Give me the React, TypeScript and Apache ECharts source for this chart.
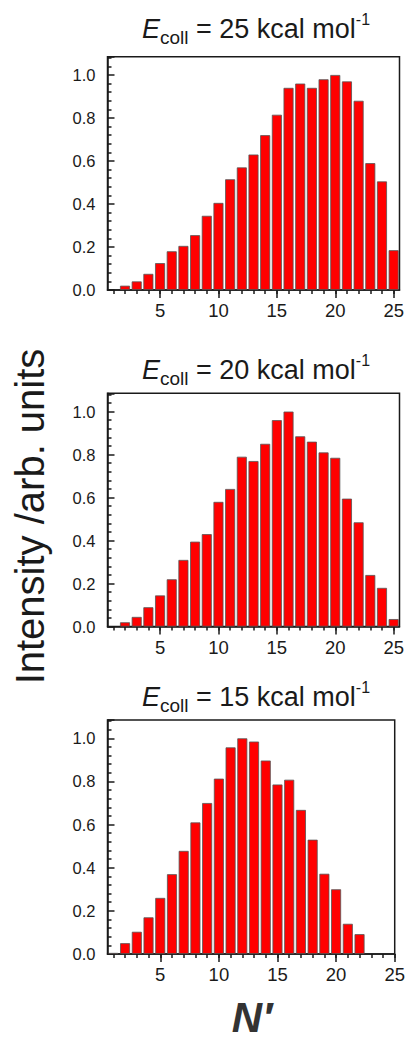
import React, { useEffect, useRef } from "react";
import * as echarts from "echarts";

// Rotational state distributions N′ at three collision energies
const energies = [25, 20, 15];

const nAxis25 = [2, 3, 4, 5, 6, 7, 8, 9, 10, 11, 12, 13, 14, 15, 16, 17, 18, 19, 20, 21, 22, 23, 24, 25];
const intensity25 = [0.02, 0.04, 0.075, 0.125, 0.18, 0.205, 0.255, 0.345, 0.405, 0.515, 0.57, 0.63, 0.72, 0.815, 0.94, 0.96, 0.94, 0.98, 1.0, 0.97, 0.88, 0.59, 0.505, 0.185];

const nAxis20 = [2, 3, 4, 5, 6, 7, 8, 9, 10, 11, 12, 13, 14, 15, 16, 17, 18, 19, 20, 21, 22, 23, 24, 25];
const intensity20 = [0.02, 0.045, 0.09, 0.145, 0.22, 0.31, 0.395, 0.43, 0.58, 0.64, 0.79, 0.77, 0.85, 0.96, 1.0, 0.885, 0.86, 0.81, 0.785, 0.595, 0.485, 0.24, 0.18, 0.035];

const nAxis15 = [1, 2, 3, 4, 5, 6, 7, 8, 9, 10, 11, 12, 13, 14, 15, 16, 17, 18, 19, 20, 21, 22];
const intensity15 = [0.005, 0.05, 0.103, 0.17, 0.26, 0.37, 0.478, 0.61, 0.7, 0.813, 0.958, 1.0, 0.985, 0.897, 0.786, 0.808, 0.668, 0.53, 0.372, 0.3, 0.14, 0.092];

const xMajorTicks = [5, 10, 15, 20, 25];
const xMinorTicks = [1, 2, 3, 4, 5, 6, 7, 8, 9, 10, 11, 12, 13, 14, 15, 16, 17, 18, 19, 20, 21, 22, 23, 24, 25];
const yInterval = 0.2;

const FONT = "'Liberation Sans', Arial, sans-serif";
const INK = "#1a1a1a";

const panels = [
  { n: nAxis25, v: intensity25, top: 56.7, height: 233.3, width: 292, xMax: 25.5, titleTop: 11 },
  { n: nAxis20, v: intensity20, top: 393.3, height: 233.3, width: 292, xMax: 25.5, titleTop: 352 },
  { n: nAxis15, v: intensity15, top: 720, height: 234, width: 290.5, xMax: 25, titleTop: 679 },
];

export default function App() {
  const ref = useRef<HTMLDivElement>(null);

  useEffect(() => {
    if (!ref.current) return;
    const chart = echarts.init(ref.current, null, { renderer: "svg" });
    const axisLine = { color: INK, width: 1.5 };

    const grid = panels.map((p) => ({
      left: 107.5,
      top: p.top,
      width: p.width,
      height: p.height,
      show: true,
      borderColor: INK,
      borderWidth: 1.5,
      backgroundColor: "transparent",
    }));

    const xAxis: any[] = [];
    panels.forEach((p, i) => {
      xAxis.push({
        type: "value",
        gridIndex: i,
        min: 0.5,
        max: p.xMax,
        position: "bottom",
        axisLine: { show: true, onZero: false, lineStyle: axisLine },
        axisTick: { show: true, inside: false, length: 8, customValues: xMajorTicks, lineStyle: axisLine },
        axisLabel: { show: true, customValues: xMajorTicks, fontSize: 18.5, color: INK, margin: 11, fontFamily: FONT },
        splitLine: { show: false },
      });
      xAxis.push({
        type: "value",
        gridIndex: i,
        min: 0.5,
        max: p.xMax,
        position: "bottom",
        offset: 0,
        axisLine: { show: false, onZero: false },
        axisTick: { show: true, inside: false, length: 4, customValues: xMinorTicks, lineStyle: axisLine },
        axisLabel: { show: false },
        splitLine: { show: false },
      });
    });

    const yAxis = panels.map((_, i) => ({
      type: "value",
      gridIndex: i,
      min: 0,
      max: 1.085,
      interval: yInterval,
      axisLine: { show: true, lineStyle: axisLine },
      axisTick: { show: true, inside: true, length: 7, lineStyle: axisLine },
      minorTick: { show: true, splitNumber: 5, length: 4, lineStyle: axisLine },
      axisLabel: {
        formatter: (v: number) => v.toFixed(1),
        showMaxLabel: false,
        fontSize: 16.5,
        margin: 12,
        color: INK,
        fontFamily: FONT,
      },
      splitLine: { show: false },
      minorSplitLine: { show: false },
    }));

    const series = panels.map((p, i) => ({
      type: "bar",
      xAxisIndex: 2 * i,
      yAxisIndex: i,
      barWidth: 10,
      data: p.n.map((n, k) => [n, p.v[k]]),
      itemStyle: { color: "#ff0000", borderColor: "#555555", borderWidth: 0.8 },
    }));

    const titleRich = {
      e: { fontSize: 27, fontStyle: "italic", fontFamily: FONT, fill: INK, color: INK, lineHeight: 36, verticalAlign: "middle" },
      s: { fontSize: 19, fontFamily: FONT, fill: INK, color: INK, lineHeight: 16, verticalAlign: "bottom" },
      m: { fontSize: 27, fontFamily: FONT, fill: INK, color: INK, lineHeight: 36, verticalAlign: "middle" },
      p: { fontSize: 16, fontFamily: FONT, fill: INK, color: INK, lineHeight: 24, verticalAlign: "top" },
    };

    const graphic: any[] = panels.map((p, i) => ({
      type: "text",
      x: 256,
      y: p.titleTop,
      style: {
        text: `{e|E}{s|coll}{m| = ${energies[i]} kcal mol}{p|-1}`,
        rich: titleRich,
        align: "center",
        verticalAlign: "top",
        fontFamily: FONT,
      },
    }));

    graphic.push({
      type: "text",
      x: 30,
      y: 516.5,
      rotation: Math.PI / 2,
      style: {
        text: "Intensity /arb. units",
        fontSize: 40,
        fontFamily: FONT,
        fill: INK,
        align: "center",
        verticalAlign: "middle",
      },
    });

    graphic.push({
      type: "text",
      x: 252,
      y: 1017,
      style: {
        text: "N′",
        fontSize: 42,
        lineHeight: 38,
        fontWeight: "bold",
        fontStyle: "italic",
        fontFamily: FONT,
        fill: "#333333",
        align: "center",
        verticalAlign: "middle",
      },
    });

    chart.setOption({
      animation: false,
      backgroundColor: "#ffffff",
      grid,
      xAxis,
      yAxis,
      series,
      graphic,
    });

    return () => chart.dispose();
  }, []);

  return (
    <div
      ref={ref}
      style={{ position: "fixed", left: 0, top: 0, width: 408, height: 1043 }}
    />
  );
}
